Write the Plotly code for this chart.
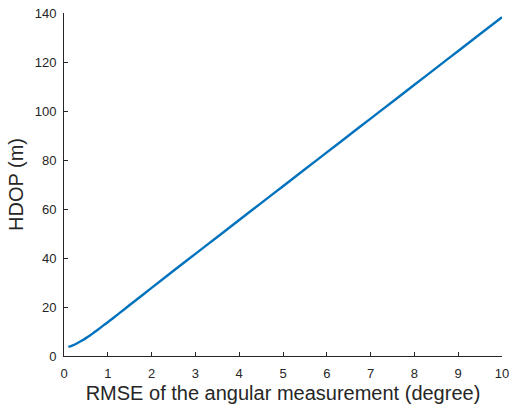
import plotly.graph_objects as go

# RMSE of the angular measurement (degree)
rmse_deg = [0.1, 0.2, 0.3, 0.4, 0.5, 0.6, 0.7, 0.8, 0.9, 1.0,
            1.25, 1.5, 1.75, 2.0, 2.5, 3.0, 3.5, 4.0, 4.5, 5.0,
            5.5, 6.0, 6.5, 7.0, 7.5, 8.0, 8.5, 9.0, 9.5, 10.0]
# HDOP (m)
hdop_m = [3.7, 4.3, 5.2, 6.2, 7.3, 8.5, 9.8, 11.1, 12.5, 13.8,
          17.3, 20.8, 24.3, 27.8, 34.8, 41.7, 48.6, 55.5, 62.4, 69.3,
          76.2, 83.1, 90.0, 96.9, 103.8, 110.7, 117.6, 124.5, 131.4, 138.3]

x_ticks = list(range(0, 11))
y_ticks = list(range(0, 141, 20))

axis_color = "#262626"
font_family = "Liberation Sans, Arial, sans-serif"

fig = go.Figure()
fig.add_trace(go.Scatter(
    x=rmse_deg, y=hdop_m, mode="lines",
    line=dict(color="#0072BD", width=2.4, shape="spline"),
    showlegend=False,
))

common_axis = dict(
    showgrid=False, zeroline=False, showline=True, linecolor=axis_color,
    linewidth=1, ticks="inside", ticklen=4, tickcolor=axis_color,
    tickfont=dict(family=font_family, size=13, color=axis_color),
    mirror=False, automargin=False,
)

fig.update_layout(
    width=510, height=411,
    margin=dict(l=64, r=8, t=13, b=55),
    paper_bgcolor="white", plot_bgcolor="white",
    xaxis=dict(range=[0, 10], tickvals=x_ticks, ticklabelstandoff=5,
               **common_axis,
               title=dict(text="RMSE of the angular measurement (degree)",
                          font=dict(family=font_family, size=20, color=axis_color),
                          standoff=6)),
    yaxis=dict(range=[0, 140], tickvals=y_ticks, ticklabelstandoff=4,
               **common_axis,
               title=dict(text="HDOP (m)",
                          font=dict(family=font_family, size=20, color=axis_color),
                          standoff=5)),
)

fig.write_html("out.html")
